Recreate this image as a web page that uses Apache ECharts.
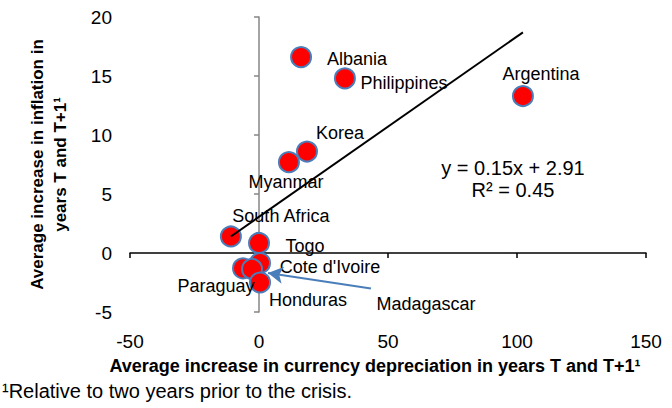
<!DOCTYPE html>
<html>
<head>
<meta charset="utf-8">
<script src="https://cdn.jsdelivr.net/npm/echarts@6/dist/echarts.min.js"></script>
<style>
  html, body { margin: 0; padding: 0; background: #fff; }
  #chart { width: 672px; height: 408px; }
</style>
</head>
<body>
<div id="chart"></div>
<script>
// data
const countries = ['Albania', 'Philippines', 'Argentina', 'Korea', 'Myanmar', 'South Africa',
  'Togo', "Cote d'Ivoire", 'Paraguay', 'Madagascar', 'Honduras'];
const depreciation = [16.3, 33.3, 102.3, 18.6, 11.6, -10.9, 0.0, 0.4, -6.2, -2.7, 0.4];
const inflation = [16.6, 14.8, 13.3, 8.6, 7.7, 1.4, 0.85, -0.85, -1.3, -1.35, -2.5];

// fitted line end points, as drawn
const trendX = [-10.9, 102.3];
const trendY = [1.4, 18.7];

// Madagascar pointer (start, tip) in data units
const arrowX = [43.4, 3.5];
const arrowY = [-3.0, -1.7];

const xTicks = [-50, 150, 50];   // min, max, step
const yTicks = [-5, 20, 5];

// label placement (px from marker centre)
const labelOffsets = [[56, 2], [59, 5], [18, -22], [33, -19], [-3, 20], [50, -20],
  [46, 3], [70, 4], [-27, 18], [174, 35], [48, 17]];

const font = 'Liberation Sans';
const chart = echarts.init(document.getElementById('chart'), null, { renderer: 'svg' });

const points = countries.map((c, i) => ({
  name: c,
  value: [depreciation[i], inflation[i]],
  label: { offset: labelOffsets[i] }
}));

const option = {
  animation: false,
  textStyle: { fontFamily: font },
  grid: { left: 130, right: 26, top: 17, bottom: 96 },
  xAxis: [
    {
      type: 'value', min: xTicks[0], max: xTicks[1], interval: xTicks[2],
      position: 'bottom',
      axisLine: { show: false, onZero: false },
      axisTick: { show: false },
      splitLine: { show: false },
      axisLabel: { fontSize: 19, color: '#000', margin: 20, fontFamily: font }
    },
    {
      type: 'value', min: xTicks[0], max: xTicks[1], interval: xTicks[2],
      position: 'bottom',
      axisLine: { show: true, onZero: true, onZeroAxisIndex: 0, lineStyle: { color: '#000', width: 1.5 } },
      axisTick: { show: true, length: 5, lineStyle: { color: '#000', width: 1.5 } },
      axisLabel: { show: false },
      splitLine: { show: false }
    }
  ],
  yAxis: [
    {
      type: 'value', min: yTicks[0], max: yTicks[1], interval: yTicks[2],
      position: 'left',
      axisLine: { show: false, onZero: false },
      axisTick: { show: false },
      splitLine: { show: false },
      axisLabel: { fontSize: 19, color: '#000', margin: 18, fontFamily: font },
      name: 'Average increase in inflation in\nyears T and T+1\u00b9',
      nameLocation: 'middle',
      nameRotate: 90,
      nameGap: 58,
      nameTextStyle: { fontSize: 17, fontWeight: 'bold', color: '#000', lineHeight: 23, fontFamily: font }
    },
    {
      type: 'value', min: yTicks[0], max: yTicks[1], interval: yTicks[2],
      position: 'left',
      axisLine: { show: true, onZero: true, onZeroAxisIndex: 0, lineStyle: { color: '#868686', width: 1.5 } },
      axisTick: { show: true, length: 5, lineStyle: { color: '#868686', width: 1.5 } },
      axisLabel: { show: false },
      splitLine: { show: false }
    }
  ],
  series: [
    {
      type: 'scatter',
      xAxisIndex: 0, yAxisIndex: 0,
      symbolSize: 20,
      itemStyle: { color: '#ff0000', borderColor: '#4a7ebb', borderWidth: 2, opacity: 1 },
      label: {
        show: true, position: 'inside', formatter: '{b}',
        color: '#000', fontSize: 18, fontFamily: font
      },
      data: points,
      z: 2
    },
    {
      type: 'line',
      xAxisIndex: 0, yAxisIndex: 0,
      symbol: 'none',
      lineStyle: { color: '#000', width: 2 },
      data: trendX.map((x, i) => [x, trendY[i]]),
      z: 3,
      markLine: {
        silent: true,
        symbol: ['none', 'arrow'],
        symbolSize: [13, 15],
        label: { show: false },
        lineStyle: { color: '#4a7ebb', width: 2, type: 'solid' },
        data: [[{ coord: [arrowX[0], arrowY[0]] }, { coord: [arrowX[1], arrowY[1]] }]]
      }
    }
  ],
  graphic: [
    {
      type: 'text', x: 513, y: 179, z: 10,
      style: {
        text: 'y = 0.15x + 2.91\nR\u00b2 = 0.45',
        align: 'center', verticalAlign: 'middle', lineHeight: 22,
        fontSize: 20, fontFamily: font, fill: '#000'
      }
    },
    {
      type: 'text', x: 375, y: 366, z: 10,
      style: {
        text: 'Average increase in currency depreciation in years T and T+1\u00b9',
        align: 'center', verticalAlign: 'middle',
        fontSize: 18, fontWeight: 'bold', fontFamily: font, fill: '#000'
      }
    },
    {
      type: 'text', x: 2, y: 391, z: 10,
      style: {
        text: '\u00b9Relative to two years prior to the crisis.',
        align: 'left', verticalAlign: 'middle',
        fontSize: 20, fontFamily: font, fill: '#000'
      }
    }
  ]
};

chart.setOption(option);
</script>
</body>
</html>
